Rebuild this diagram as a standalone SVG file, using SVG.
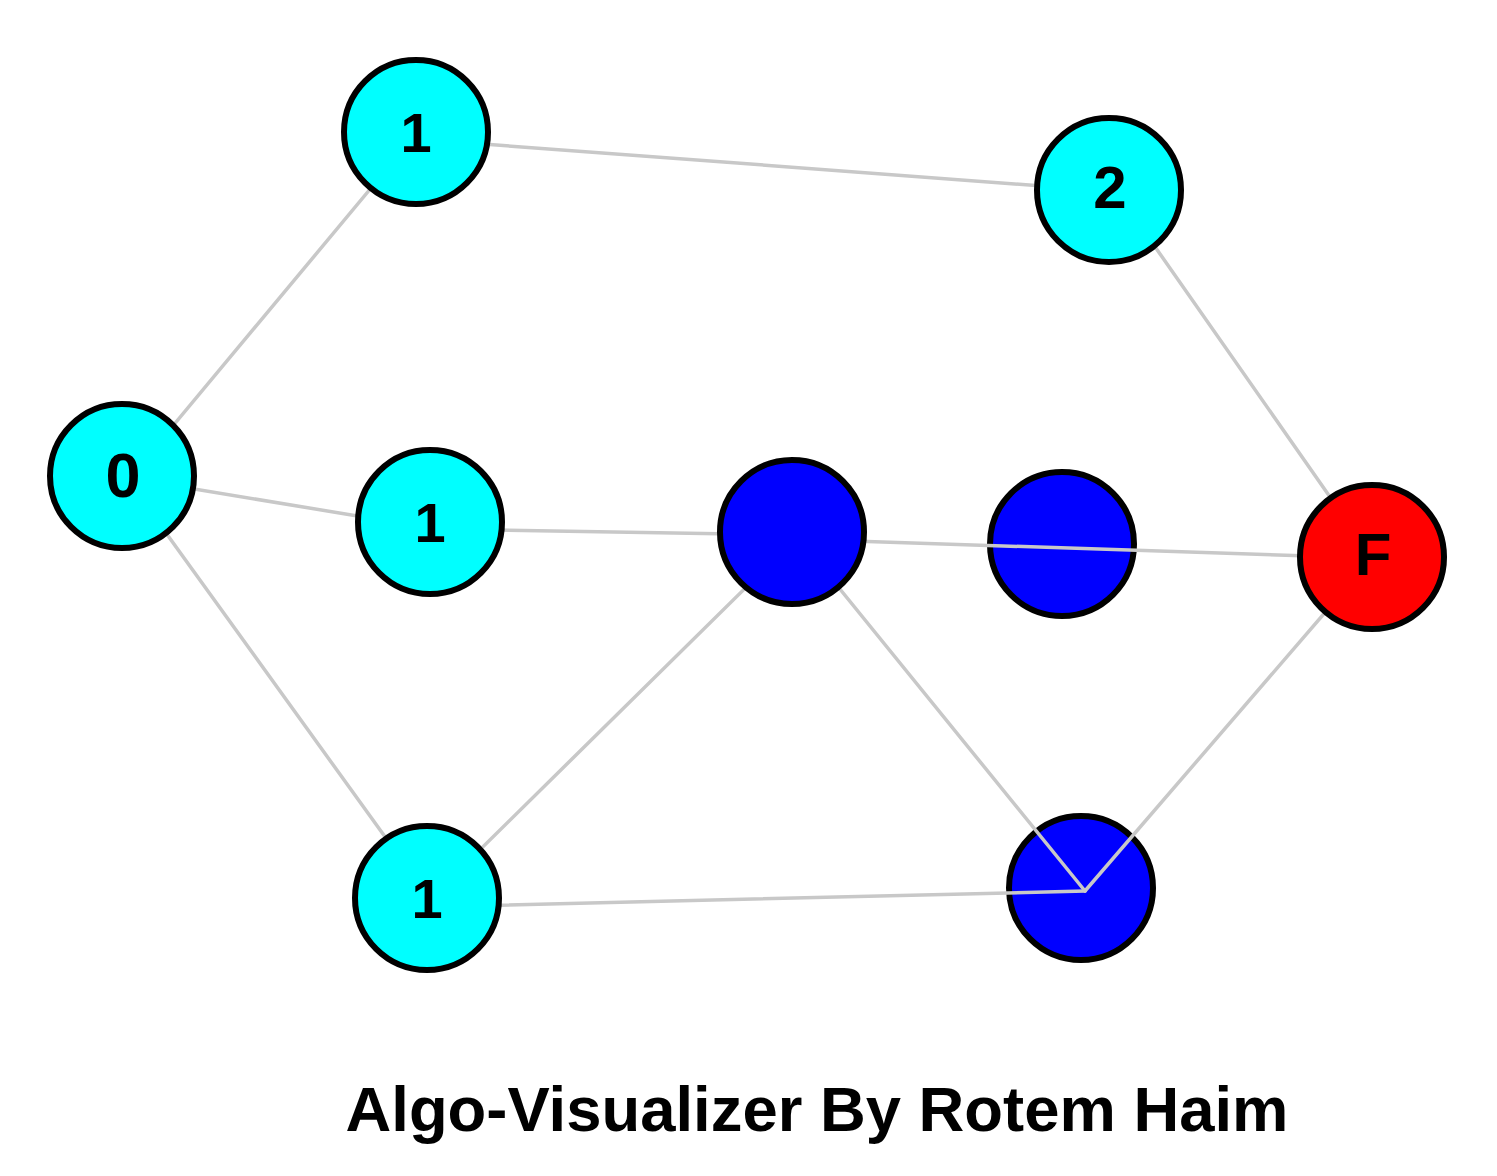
<svg xmlns="http://www.w3.org/2000/svg" width="1497" height="1176" viewBox="0 0 1497 1176">
<style>
.n{stroke:#000;stroke-width:6}
.c{fill:#00ffff}
.b{fill:#0000ff}
.r{fill:#ff0000}
.e{stroke:#c8c8c8;stroke-width:3.5;fill:none;stroke-linecap:round}
.t{font-family:"Liberation Sans",Arial,sans-serif;font-weight:bold;fill:#000;text-anchor:middle}
</style>
<rect width="1497" height="1176" fill="#fff"/>
<g id="node-b2"><circle class="n b" cx="1062" cy="544" r="72"/></g>
<g id="node-b3"><circle class="n b" cx="1081" cy="888" r="72"/></g>
<g id="edges">
<line class="e" x1="122" y1="487" x2="416" y2="134"/>
<line class="e" x1="416" y1="139" x2="1109" y2="191"/>
<line class="e" x1="1109" y1="181" x2="1372" y2="557"/>
<line class="e" x1="122" y1="477" x2="430" y2="528"/>
<line class="e" x1="122" y1="472" x2="427" y2="895"/>
<line class="e" x1="430" y1="529" x2="792" y2="535"/>
<line class="e" x1="792" y1="539" x2="1372" y2="558"/>
<line class="e" x1="427" y1="902" x2="792" y2="542"/>
<line class="e" x1="792" y1="530" x2="1085" y2="891"/>
<line class="e" x1="427" y1="907" x2="1085" y2="891"/>
<line class="e" x1="1372" y1="558" x2="1085" y2="891"/>
</g>
<g id="node-0"><circle class="n c" cx="122" cy="476" r="72"/><text class="t" x="123" y="497" font-size="63">0</text></g>
<g id="node-1a"><circle class="n c" cx="416" cy="132" r="72"/><text class="t" x="416" y="152" font-size="56">1</text></g>
<g id="node-2"><circle class="n c" cx="1109" cy="190" r="72"/><text class="t" x="1110" y="208" font-size="60">2</text></g>
<g id="node-1b"><circle class="n c" cx="430" cy="522" r="72"/><text class="t" x="430" y="542" font-size="56">1</text></g>
<g id="node-b1"><circle class="n b" cx="792" cy="532" r="72"/></g>
<g id="node-F"><circle class="n r" cx="1372" cy="557" r="72"/><text class="t" x="1373" y="575" font-size="60">F</text></g>
<g id="node-1c"><circle class="n c" cx="427" cy="898" r="72"/><text class="t" x="427" y="918" font-size="56">1</text></g>
<text class="t" x="817" y="1131" font-size="63" textLength="943" lengthAdjust="spacingAndGlyphs">Algo-Visualizer By Rotem Haim</text>
</svg>
